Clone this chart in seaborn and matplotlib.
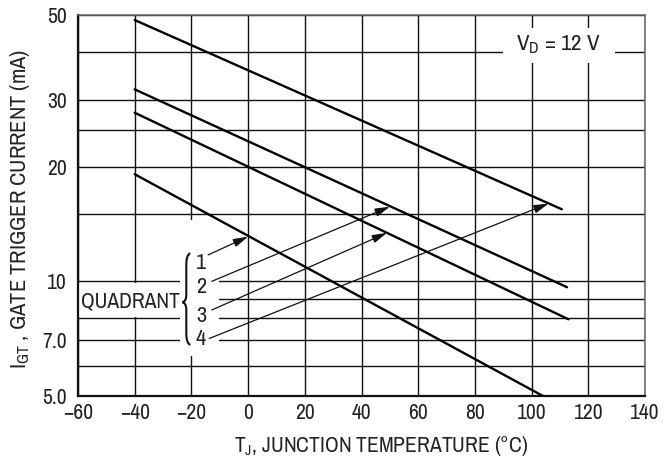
import numpy as np
import pandas as pd
import matplotlib
matplotlib.use('Agg')
import matplotlib.pyplot as plt
from matplotlib.patches import Rectangle, PathPatch
from matplotlib.path import Path
from matplotlib.ticker import FixedLocator, NullFormatter
import seaborn as sns

sns.set_style('white')
plt.rcParams['font.family'] = ['Archivo Narrow', 'Roboto Condensed', 'Liberation Sans', 'DejaVu Sans']
plt.rcParams['mathtext.fontset'] = 'custom'
plt.rcParams['mathtext.rm'] = 'Archivo Narrow'
plt.rcParams['mathtext.it'] = 'Archivo Narrow'

# gate trigger current vs junction temperature, one straight (log) line per quadrant
quadrants = ['1', '2', '3', '4']
temp_start = [-40, -40, -40, -40]
temp_end = [104, 112.5, 113, 110.7]
igt_start = [19.1, 31.9, 27.7, 48.5]
igt_end = [5.0, 9.65, 7.95, 15.45]

# where each quadrant label points to on its curve
arrow_temp = [0, 50, 49, 106]
arrow_igt = [13.1, 15.7, 13.4, 16.0]

x_ticks = [-60, -40, -20, 0, 20, 40, 60, 80, 100, 120, 140]
y_ticks = [5, 7, 10, 20, 30, 50]
y_tick_labels = ['5.0', '7.0', '10', '20', '30', '50']
y_minor = [6, 8, 9, 15, 25, 40]

df = pd.DataFrame({
    'quadrant': quadrants * 2,
    'temp': temp_start + temp_end,
    'igt': igt_start + igt_end,
})

fig = plt.figure(figsize=(6.64, 4.61), dpi=100)
ax = fig.add_axes([78 / 664, 65 / 461, 567 / 664, 381 / 461])

sns.lineplot(data=df, x='temp', y='igt', hue='quadrant', palette=['black'] * 4,
             lw=1.7, legend=False, ax=ax, zorder=3, sort=True, estimator=None)

ax.set_yscale('log')
ax.set_xlim(-60, 140)
ax.set_ylim(5, 50)
ax.set_xticks(x_ticks)
ax.yaxis.set_major_locator(FixedLocator(y_ticks))
ax.set_yticklabels(y_tick_labels)
ax.yaxis.set_minor_locator(FixedLocator(y_minor))
ax.yaxis.set_minor_formatter(NullFormatter())
ax.tick_params(axis='both', which='both', length=0, labelsize=15.5, colors='#222222')
ax.tick_params(axis='y', pad=8)
ax.tick_params(axis='x', pad=5)

ax.set_axisbelow(True)
ax.grid(True, which='both', color='#111111', lw=1.0)

for side in ['left', 'bottom']:
    ax.spines[side].set_color('#111111')
    ax.spines[side].set_linewidth(1.6)
for side in ['top', 'right']:
    ax.spines[side].set_color('#666666')
    ax.spines[side].set_linewidth(1.1)

ax.set_xlabel(r'T$_{\mathrm{J}}$, JUNCTION TEMPERATURE (°C)', fontsize=15.5, color='#222222')
ax.xaxis.set_label_coords(0.534, -0.1)
ax.set_ylabel(r'I$_{\mathrm{GT}}$ , GATE TRIGGER CURRENT (mA)', fontsize=16.2, color='#222222')
ax.yaxis.set_label_coords(-0.082, 0.49)

# white gaps in the grid behind the annotations
tr = ax.transAxes
ax.add_patch(Rectangle((0.180, 0.105), 0.069, 0.357, transform=tr, fc='white', ec='none', zorder=1.5))
ax.add_patch(Rectangle((0.0, 0.207), 0.185, 0.089, transform=tr, fc='white', ec='none', zorder=1.5))
ax.add_patch(Rectangle((0.7496, 0.874), 0.197, 0.092, transform=tr, fc='white', ec='none', zorder=1.5))

ax.text(0.848, 0.921, r'V$_{\mathrm{D}}$ = 12 V', transform=tr, fontsize=16.5,
        ha='center', va='center', color='#222222', zorder=4)
ax.text(0.092, 0.249, 'QUADRANT', transform=tr, fontsize=15.5,
        ha='center', va='center', color='#222222', zorder=4)

# curly brace
xl, xm, xr = 0.184, 0.191, 0.198
yt, yc, yb = 0.375, 0.246, 0.134
verts = [(xr, yt), (xm, yt - 0.005), (xm, yt - 0.03),
         (xm, yc + 0.02), (xm, yc + 0.002), (xl, yc),
         (xm, yc - 0.002), (xm, yc - 0.02),
         (xm, yb + 0.03), (xm, yb + 0.005), (xr, yb)]
codes = [Path.MOVETO, Path.CURVE3, Path.CURVE3,
         Path.LINETO, Path.CURVE3, Path.CURVE3,
         Path.CURVE3, Path.CURVE3,
         Path.LINETO, Path.CURVE3, Path.CURVE3]
ax.add_patch(PathPatch(Path(verts, codes), transform=tr, fc='none', ec='#111111', lw=1.5, zorder=4))

# quadrant numbers with arrows
label_y = [11.2, 9.68, 8.11, 7.06]
start_x = [-14.1, -12.8, -12.8, -13.7]
start_y = [11.73, 10.0, 8.41, 7.08]
for i, q in enumerate(quadrants):
    ax.text(-16.6, label_y[i], q, fontsize=16, ha='center', va='center', color='#222222', zorder=4)
    ax.annotate('', xy=(arrow_temp[i], arrow_igt[i]), xytext=(start_x[i], start_y[i]),
                arrowprops=dict(arrowstyle='-|>,head_length=0.9,head_width=0.25', lw=0.9,
                                color='#111111', shrinkA=0, shrinkB=0, mutation_scale=10),
                zorder=4)

fig.savefig('out.png', dpi=100)
